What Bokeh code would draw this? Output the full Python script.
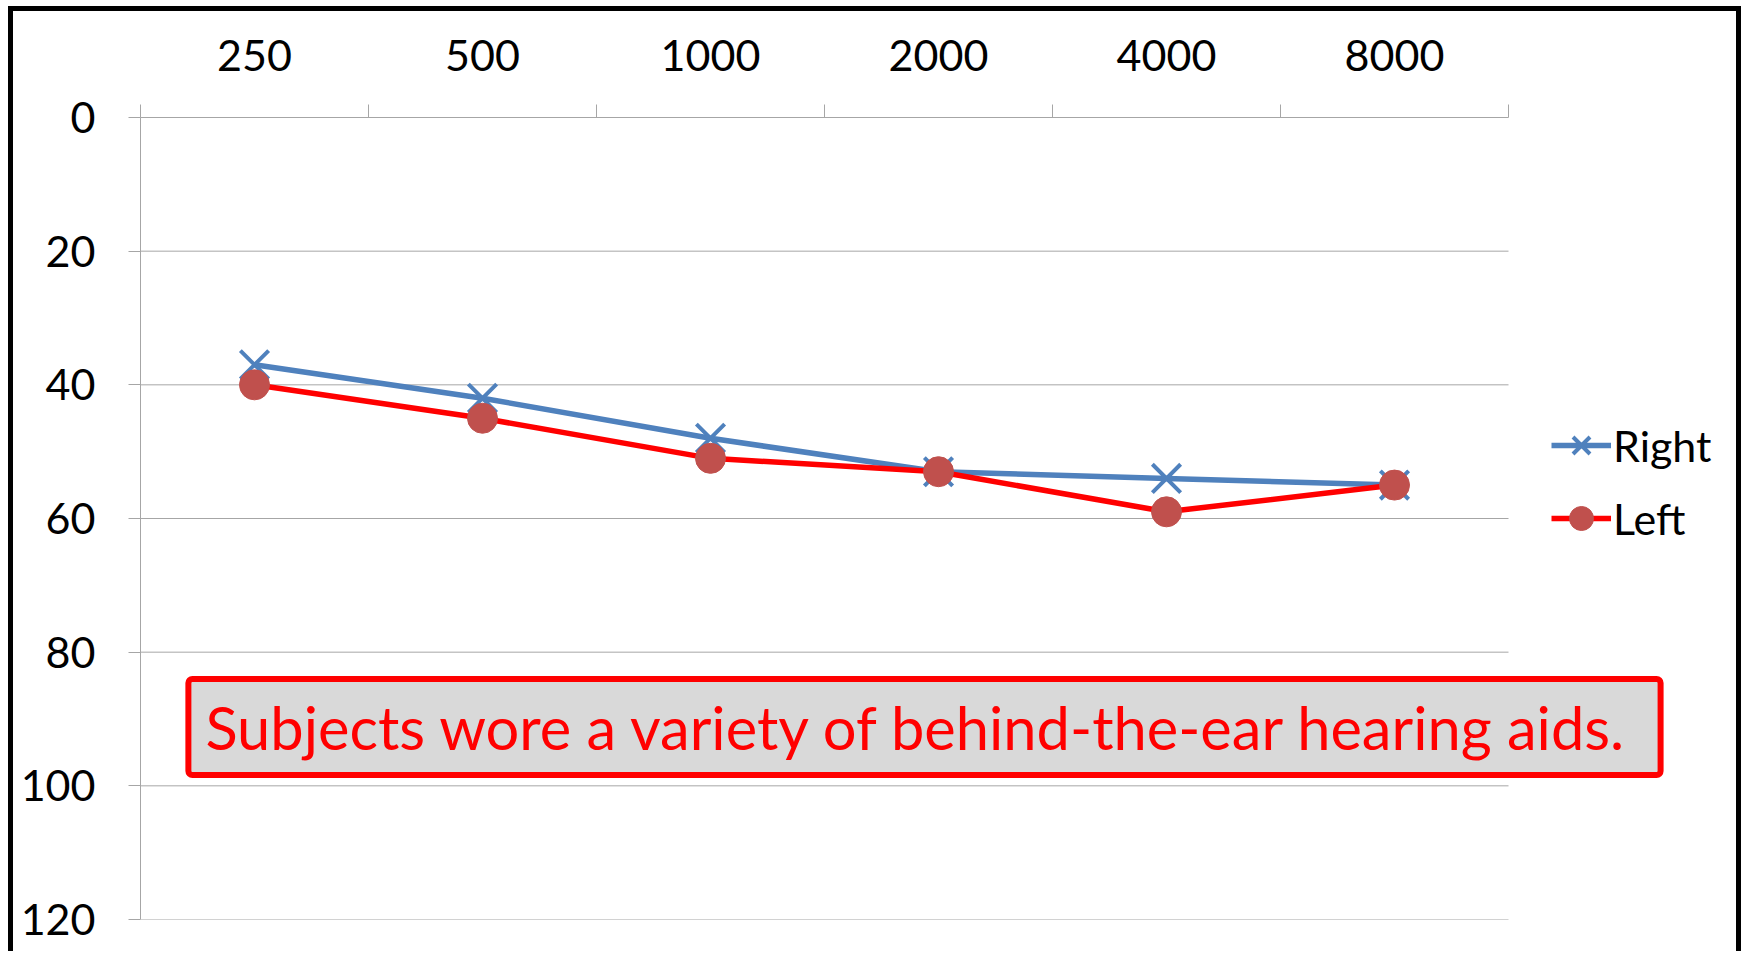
from bokeh.plotting import figure
from bokeh.models import Range1d, FixedTicker, Legend, LegendItem, Label
from bokeh.layouts import column
from bokeh.embed import file_html
from bokeh.resources import INLINE

# ---- data ----
frequencies = ["250", "500", "1000", "2000", "4000", "8000"]
right_ear = [37, 42, 48, 53, 54, 55]
left_ear = [40, 45, 51, 53, 59, 55]
y_ticks = [0, 20, 40, 60, 80, 100, 120]
note = "Subjects wore a variety of behind-the-ear hearing aids."

FONT = "Lato"
GRID = "#A6A6A6"
n = len(frequencies)
xpos = [i + 0.5 for i in range(n)]

FIG_W, FIG_H = 1723, 940
ML, MR, MT, MB = 127, 10, 106, 32
frame_w = FIG_W - ML - MR
plot_w = 1368  # pixel width of the category area
x_end = n * frame_w / plot_w

p = figure(width=FIG_W, height=FIG_H, output_backend="svg", toolbar_location=None,
           x_range=Range1d(0, x_end), y_range=Range1d(120, 0), x_axis_location="above",
           min_border_left=ML, min_border_right=MR, min_border_top=MT, min_border_bottom=MB)
p.outline_line_color = None
p.background_fill_color = "white"
p.border_fill_color = "white"

xa = p.xaxis[0]
xa.ticker = FixedTicker(ticks=xpos, minor_ticks=list(range(n + 1)))
xa.bounds = (0, n)
xa.major_label_overrides = {x: f for x, f in zip(xpos, frequencies)}
xa.major_tick_out = 0
xa.major_tick_in = 0
xa.minor_tick_out = 13
xa.minor_tick_in = 0
xa.minor_tick_line_color = GRID
xa.axis_line_color = GRID
xa.major_label_text_font = FONT
xa.major_label_text_font_size = "43px"
xa.major_label_text_color = "black"
xa.major_label_standoff = 34

ya = p.yaxis[0]
ya.ticker = FixedTicker(ticks=y_ticks)
ya.major_tick_out = 12
ya.major_tick_in = 0
ya.minor_tick_out = 0
ya.minor_tick_in = 0
ya.major_tick_line_color = GRID
ya.axis_line_color = GRID
ya.major_label_text_font = FONT
ya.major_label_text_font_size = "43px"
ya.major_label_text_color = "black"
ya.major_label_standoff = 33

p.xgrid.visible = False
p.ygrid.visible = False
grid_vals = y_ticks[1:]
p.segment(x0=[0] * len(grid_vals), x1=[n] * len(grid_vals), y0=grid_vals, y1=grid_vals,
          line_color=GRID, line_width=1, level="underlay")

r_line = p.line(xpos, right_ear, line_color="#4F81BD", line_width=5.5)
r_mark = p.scatter(xpos, right_ear, marker="x", size=40, line_color="#4F81BD", line_width=4)
l_line = p.line(xpos, left_ear, line_color="#FF0000", line_width=5.5)
l_mark = p.scatter(xpos, left_ear, marker="circle", size=30, fill_color="#C0504D", line_color="#C0504D")

legend = Legend(items=[LegendItem(label="Right", renderers=[r_line, r_mark]),
                       LegendItem(label="Left", renderers=[l_line, l_mark])],
                location=(1411, 371))
legend.background_fill_alpha = 0
legend.border_line_color = None
legend.padding = 0
legend.margin = 0
legend.spacing = 13
legend.glyph_width = 60
legend.glyph_height = 60
legend.label_height = 60
legend.label_standoff = 2
legend.label_text_font = FONT
legend.label_text_font_size = "43px"
legend.label_text_color = "black"
p.add_layout(legend, "center")

# padding given as (left, right, top, bottom)
box = Label(x=0.21, y=91.2, text=note, text_align="left", text_baseline="middle",
            text_font=FONT, text_font_size="59.6px", text_color="#FF0000",
            background_fill_color="#D9D9D9", border_line_color="#FF0000", border_line_width=6,
            padding=(17, 30, 12, 12), border_radius=4)
p.add_layout(box)

layout = column(p, styles={"margin-left": "8px", "margin-top": "6px",
                           "border-left": "5px solid black", "border-top": "5px solid black",
                           "border-right": "5px solid black"})

open("out.html", "w").write(file_html(layout, INLINE))
